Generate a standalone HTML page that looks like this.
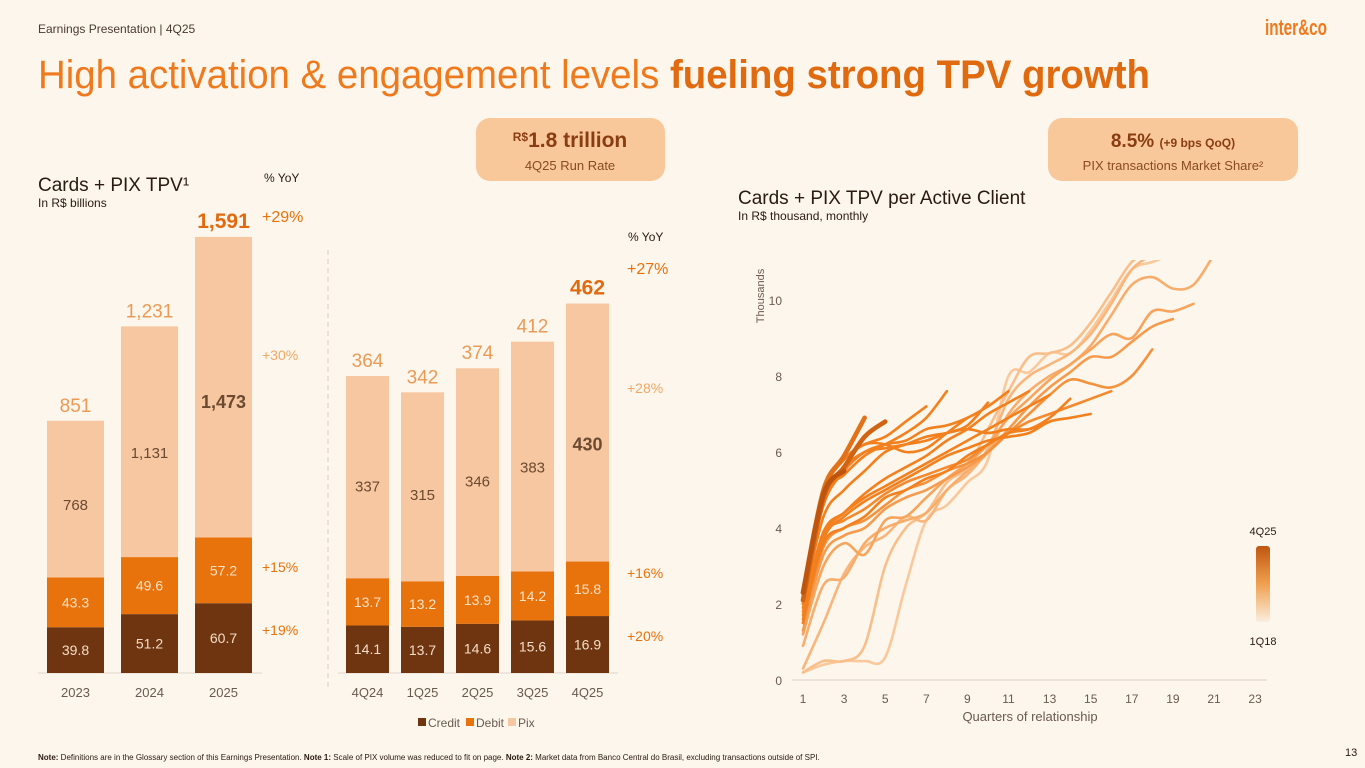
<!DOCTYPE html>
<html><head><meta charset="utf-8">
<style>
html,body{margin:0;padding:0;background:#fcf6ec;}
svg{display:block;font-family:"Liberation Sans",sans-serif;}
</style></head>
<body>
<svg id="s" width="1365" height="768" viewBox="0 0 1365 768">
<rect width="1365" height="768" fill="#fcf6ec"/>
<text x="38" y="33" font-size="12" fill="#4a3a30">Earnings Presentation | 4Q25</text>
<text x="1265" y="35" font-size="22" font-weight="bold" fill="#ef7a1e" textLength="62" lengthAdjust="spacingAndGlyphs">inter&amp;co</text>
<text x="38" y="88" font-size="40" fill="#ef7a1e" textLength="1112" lengthAdjust="spacingAndGlyphs">High activation &amp; engagement levels <tspan font-weight="bold" fill="#e06a10">fueling strong TPV growth</tspan></text>

<rect x="476" y="118" width="189" height="63" rx="14" fill="#f8c89b"/>
<text x="570" y="147" text-anchor="middle" font-size="21" font-weight="bold" fill="#8a3d10"><tspan font-size="12" dy="-6">R$</tspan><tspan dy="6">1.8 trillion</tspan></text>
<text x="570" y="170" text-anchor="middle" font-size="13" fill="#8a4a20">4Q25 Run Rate</text>
<rect x="1048" y="118" width="250" height="63" rx="14" fill="#f8c89b"/>
<text x="1173" y="147" text-anchor="middle" font-size="19" font-weight="bold" fill="#8a3d10">8.5% <tspan font-size="12">(+9 bps QoQ)</tspan></text>
<text x="1173" y="170" text-anchor="middle" font-size="13" fill="#8a4a20">PIX transactions Market Share²</text>

<text x="38" y="191" font-size="19" fill="#2a1a10">Cards + PIX TPV¹</text>
<text x="38" y="207" font-size="12" fill="#2a1a10">In R$ billions</text>
<text x="264" y="182" font-size="12" fill="#2a1a10">% YoY</text>
<text x="628" y="241" font-size="12" fill="#2a1a10">% YoY</text>
<line x1="328" y1="250" x2="328" y2="690" stroke="#d8cfc4" stroke-dasharray="5,4"/>
<line x1="38" y1="673" x2="262" y2="673" stroke="#e0d6cb"/>
<line x1="338" y1="673" x2="618" y2="673" stroke="#e0d6cb"/>

<g>
<rect x="418" y="718" width="8" height="8" fill="#6e3510"/><text x="428" y="727" font-size="12" fill="#6b5a4e">Credit</text>
<rect x="466" y="718" width="8" height="8" fill="#e8720c"/><text x="476" y="727" font-size="12" fill="#6b5a4e">Debit</text>
<rect x="508" y="718" width="8" height="8" fill="#f7c7a2"/><text x="518" y="727" font-size="12" fill="#6b5a4e">Pix</text>
</g>

<text x="738" y="204" font-size="19" fill="#2a1a10">Cards + PIX TPV per Active Client</text>
<text x="738" y="220" font-size="12" fill="#2a1a10">In R$ thousand, monthly</text>
<text transform="translate(764,296) rotate(-90)" text-anchor="middle" font-size="11" fill="#6b5a4e">Thousands</text>
<text x="1030" y="721" text-anchor="middle" font-size="13" fill="#6b5a4e">Quarters of relationship</text>
<line x1="792" y1="680" x2="1267" y2="680" stroke="#ddd3c8"/>
<defs>
<linearGradient id="lg" x1="0" y1="0" x2="0" y2="1"><stop offset="0" stop-color="#c0560f"/><stop offset="0.5" stop-color="#f0a050"/><stop offset="1" stop-color="#fbeede"/></linearGradient>
<clipPath id="cp"><rect x="790" y="260" width="480" height="425"/></clipPath>
</defs>
<text x="1263" y="535" text-anchor="middle" font-size="11" fill="#2a1a10">4Q25</text>
<rect x="1256" y="546" width="14" height="76" rx="3" fill="url(#lg)"/>
<text x="1263" y="645" text-anchor="middle" font-size="11" fill="#2a1a10">1Q18</text>
<g id="lines" clip-path="url(#cp)"></g>

<text x="38" y="760" font-size="8" fill="#2a1a10"><tspan font-weight="bold">Note:</tspan> Definitions are in the Glossary section of this Earnings Presentation. <tspan font-weight="bold">Note 1:</tspan> Scale of PIX volume was reduced to fit on page. <tspan font-weight="bold">Note 2:</tspan> Market data from Banco Central do Brasil, excluding transactions outside of SPI.</text>
<text x="1345" y="756" font-size="11" fill="#2a1a10">13</text>
</svg>
<script>
const annualCats=["2023","2024","2025"];
const annualCredit=[39.8,51.2,60.7];
const annualDebit=[43.3,49.6,57.2];
const annualPix=[768,1131,1473];
const annualTotal=["851","1,231","1,591"];
const qCats=["4Q24","1Q25","2Q25","3Q25","4Q25"];
const qCredit=[14.1,13.7,14.6,15.6,16.9];
const qDebit=[13.7,13.2,13.9,14.2,15.8];
const qPix=[337,315,346,383,430];
const qTotal=["364","342","374","412","462"];
const annualYoy=["+29%","+30%","+15%","+19%"];
const quarterlyYoy=["+27%","+28%","+16%","+20%"];
const yTicks=[0,2,4,6,8,10];
const xTicks=[1,3,5,7,9,11,13,15,17,19,21,23];
const cohorts=[
[0.2,0.4,0.5,0.5,0.6,2.5,4.2,4.6,5.2,5.8,8.0,8.1,8.6,8.6,9.2,10.0,10.8,11.0,11.2,11.4],
[0.2,0.5,0.5,0.9,3.0,4.0,4.4,5.2,5.6,6.6,7.6,8.5,8.6,8.8,9.4,10.2,11.0,11.3,11.5],
[0.3,1.5,2.8,3.5,3.8,4.3,4.2,5.0,5.4,6.1,7.4,8.0,8.3,8.6,9.1,9.9,10.8,11.2],
[0.9,2.5,2.7,3.6,4.0,4.2,4.4,5.0,5.5,6.0,7.0,7.6,8.0,8.3,8.8,9.6,10.4,10.6,10.3,10.4,11.2],
[1.2,3.0,3.6,3.3,4.2,4.3,4.8,5.3,5.7,6.2,6.9,7.4,7.9,8.3,8.7,9.1,9.0,9.7,9.7,9.9],
[1.3,3.3,3.8,4.0,4.5,4.8,5.0,5.3,5.6,6.0,6.6,7.2,7.7,8.1,8.5,8.5,8.9,9.3,9.5],
[1.5,3.5,4.0,4.2,4.6,5.0,5.2,5.5,5.7,6.0,6.5,7.0,7.5,7.9,7.8,7.7,8.0,8.7],
[1.8,3.8,4.2,4.5,4.9,5.2,5.4,5.6,5.8,6.2,6.5,6.8,7.0,7.2,7.4,7.6],
[1.6,3.6,4.0,4.3,4.8,5.0,5.3,5.5,5.9,6.2,6.5,6.6,6.9,7.4],
[1.5,3.7,4.3,4.7,5.0,5.3,5.6,5.9,6.1,6.3,6.4,6.5,6.8,6.9,7.0],
[1.9,3.9,4.4,4.8,5.1,5.4,5.7,6.0,6.3,6.6,6.9,7.2,7.5],
[1.7,3.8,4.4,4.9,5.3,5.6,5.9,6.3,6.6,7.0,7.3,7.6],
[2.0,4.3,5.0,5.5,6.0,6.2,6.4,6.5,6.6,6.5,6.6,6.6,6.8],
[2.2,4.6,5.5,6.0,6.2,6.3,6.6,6.7,6.9,7.2,7.6],
[2.0,4.8,5.6,6.0,6.1,6.2,6.3,6.5,6.7,7.3],
[2.3,4.9,5.8,6.2,6.2,6.0,6.1,6.5,6.9],
[2.0,4.8,5.4,5.9,6.2,6.5,6.9,7.6],
[2.2,5.0,5.8,6.2,6.4,6.8,7.2],
[2.3,5.0,5.9,6.9],
[2.1,4.8,5.6,6.4,6.8],
[2.3,4.9,5.5]
];
const NS="http://www.w3.org/2000/svg";
const svg=document.getElementById('s');
const base=673;
function mk(tag,attrs,parent){const e=document.createElementNS(NS,tag);for(const k in attrs)e.setAttribute(k,attrs[k]);(parent||svg).appendChild(e);return e;}
function txt(x,y,s,size,fill,weight,anchor){const t=mk('text',{x:x,y:y,'font-size':size,fill:fill,'font-weight':weight||'normal','text-anchor':anchor||'middle'});t.textContent=s;return t;}
const C1="#6e3510",C2="#e8720c",C3="#f7c7a2";
function drawBars(cats,cr,de,px,tot,x0,step,w,sc1,sc2,sc3,pre){
 cats.forEach((c,i)=>{
  const x=x0+i*step,cx=x+w/2;
  const h1=cr[i]*sc1,h2=de[i]*sc2,h3=px[i]*sc3;
  const last=i===cats.length-1;
  let r=mk('rect',{x:x,y:base-h1,width:w,height:h1,fill:C1});
  
  
  r=mk('rect',{x:x,y:base-h1-h2,width:w,height:h2,fill:C2});
  
  
  r=mk('rect',{x:x,y:base-h1-h2-h3,width:w,height:h3,fill:C3});
  
  
  let t=txt(cx,base-h1/2+5,String(cr[i]),14,"#f5dcc6");
  
  
  t=txt(cx,base-h1-h2/2+5,String(de[i]),14,"#fde3c8");
  
  
  const pl=pre==='annual-'?px[i].toLocaleString('en-US'):String(px[i]);
  t=txt(cx,base-h1-h2-h3*0.43,pl,last?18:15,"#6b4a30",last?'bold':'normal');
  
  
  t=txt(cx,base-h1-h2-h3-9,tot[i],last?21:19,last?"#e06a10":"#eb9a55",last?'bold':'normal');
  
  
  t=txt(cx,697,c,13,"#6b5a4e");
  
  
 });
}
drawBars(annualCats,annualCredit,annualDebit,annualPix,annualTotal,47,74,57,1.15,1.15,0.204,'annual-');
drawBars(qCats,qCredit,qDebit,qPix,qTotal,346,55,43,3.37,3.45,0.6,'quarterly-');
const ayY=[222,360,572,635],ayC=["#e8720c","#f0a868","#e8720c","#e8720c"],ayS=[16,14,14,14];
annualYoy.forEach((s,i)=>{const t=txt(262,ayY[i],s,ayS[i],ayC[i],'normal','start');
 
 });
const qyY=[274,393,578,641];
quarterlyYoy.forEach((s,i)=>{const t=txt(627,qyY[i],s,ayS[i],ayC[i],'normal','start');
 
 });
function xs(q){return 803+(q-1)*20.55;}
function ys(v){return 680-v*38;}
yTicks.forEach(v=>{const t=txt(782,ys(v)+5,String(v),12,"#6b5a4e",'normal','end');
 
 });
xTicks.forEach(v=>{const t=txt(xs(v),703,String(v),12,"#6b5a4e");
 
 });
const g=document.getElementById('lines');
function lerp(a,b,t){return Math.round(a+(b-a)*t);}
function col(t){const a=[250,200,155],m=[243,128,30],b=[190,85,15];
 let c;if(t<0.4){const u=t/0.4;c=a.map((v,k)=>lerp(v,m[k],u));}else if(t<0.85){c=m;}else{const u=(t-0.85)/0.15;c=m.map((v,k)=>lerp(v,b[k],u));}
 return 'rgb('+c.join(',')+')';}
function smooth(pts){let d='M'+pts[0][0]+','+pts[0][1];
 for(let i=0;i<pts.length-1;i++){const p0=pts[i-1]||pts[i],p1=pts[i],p2=pts[i+1],p3=pts[i+2]||p2;
  const c1x=p1[0]+(p2[0]-p0[0])/6,c1y=p1[1]+(p2[1]-p0[1])/6,c2x=p2[0]-(p3[0]-p1[0])/6,c2y=p2[1]-(p3[1]-p1[1])/6;
  d+=' C'+c1x.toFixed(1)+','+c1y.toFixed(1)+' '+c2x.toFixed(1)+','+c2y.toFixed(1)+' '+p2[0].toFixed(1)+','+p2[1].toFixed(1);}
 return d;}
cohorts.forEach((arr,i)=>{
 const t=i/(cohorts.length-1);
 const pts=arr.map((v,j)=>[xs(j+1),ys(v)]);
 const p=mk('path',{d:smooth(pts),fill:'none',stroke:col(t),'stroke-width':(2.6+(t>0.85?2:0)).toFixed(1),'stroke-linecap':'round','stroke-linejoin':'round'},g);
 
 
});
</script>
</body></html>
